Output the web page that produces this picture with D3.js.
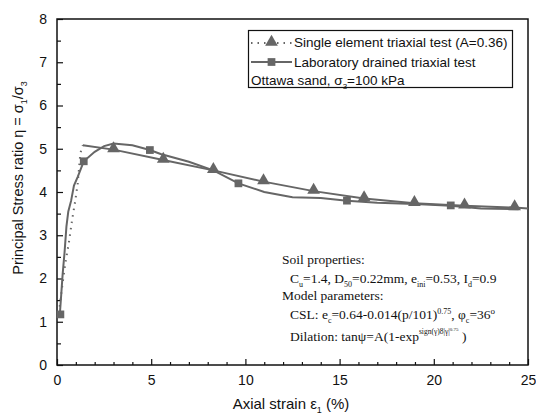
<!DOCTYPE html>
<html>
<head>
<meta charset="utf-8">
<script src="https://cdn.jsdelivr.net/npm/d3@7"></script>
<style>
body{margin:0;background:#fff;}
svg text{font-family:"Liberation Sans",Arial,sans-serif;fill:#111;}
.serif{font-family:"Liberation Serif","Times New Roman",serif !important;}
</style>
</head>
<body>
<div id="canvas"></div>
<script>
// Laboratory drained triaxial test (line + square markers)
var labStrain = [0.15,0.22,0.3,0.4,0.5,0.6,0.75,0.9,1.1,1.42,2.0,2.5,3.0,4.0,4.93,5.5,7.0,8.3,9.63,11,12.5,14,15.39,17,19,20.9,22.5,24.5];
var labEta    = [1.17,1.6,2.1,2.6,3.2,3.55,3.8,4.15,4.35,4.71,4.93,5.06,5.12,5.08,4.97,4.88,4.7,4.5,4.2,4.0,3.88,3.86,3.8,3.75,3.72,3.68,3.62,3.6];
var labMarkStrain = [0.18,1.42,4.93,9.63,15.39,20.9];
var labMarkEta    = [1.17,4.71,4.97,4.2,3.8,3.69];

// Single element triaxial test: rising part (dotted) and softening part (solid)
var simRiseStrain = [0.1,0.27,0.44,0.62,0.8,0.97,1.1,1.24,1.37];
var simRiseEta    = [1.2,1.8,2.35,2.8,3.35,3.8,4.2,4.9,5.08];
var simStrain = [1.37,3.0,5.64,8.3,10.96,13.62,16.3,18.97,21.63,24.29,25];
var simEta    = [5.08,4.98,4.74,4.5,4.24,4.02,3.85,3.74,3.68,3.64,3.62];
var simMarkStrain = [3.0,5.64,8.3,10.96,13.62,16.3,18.97,21.63,24.29];
var simMarkEta    = [4.98,4.74,4.5,4.24,4.02,3.85,3.74,3.68,3.64];

var xTicks = [0,5,10,15,20,25];
var yTicks = [0,1,2,3,4,5,6,7,8];

var m = {t:19,r:8,b:49,l:57},
    W = 536, H = 414,
    w = W - m.l - m.r,
    h = H - m.t - m.b;

var svg = d3.select('#canvas').append('svg')
    .attr('width', W).attr('height', H);
var plot = svg.append('g').attr('transform','translate('+m.l+','+m.t+')');

var x = d3.scaleLinear().domain([0,25]).range([0,w]);
var y = d3.scaleLinear().domain([0,8]).range([h,0]);

var col = '#666';

// axes with inward ticks
var xMinor = d3.range(0,26,1).filter(function(v){return v%5!==0;});
var yMinor = d3.range(0.5,8,1);

plot.append('g').attr('transform','translate(0,'+h+')')
    .call(d3.axisBottom(x).tickValues(xMinor).tickSize(-3).tickFormat(''))
    .call(function(g){g.select('.domain').remove();});
plot.append('g').attr('transform','translate(0,'+h+')')
    .call(d3.axisBottom(x).tickValues(xTicks).tickSize(-6).tickPadding(10).tickFormat(d3.format('d')))
    .call(function(g){g.select('.domain').remove(); g.selectAll('text').style('font-size','14px');});
plot.append('g')
    .call(d3.axisLeft(y).tickValues(yMinor).tickSize(-4).tickFormat(''))
    .call(function(g){g.select('.domain').remove();});
plot.append('g')
    .call(d3.axisLeft(y).tickValues(yTicks).tickSize(-6).tickPadding(10).tickFormat(d3.format('d')))
    .call(function(g){g.select('.domain').remove(); g.selectAll('text').style('font-size','14px');});
plot.selectAll('.tick line').attr('stroke','#111').attr('stroke-width',1.2);

plot.append('rect').attr('width',w).attr('height',h)
    .attr('fill','none').attr('stroke','#111').attr('stroke-width',1.5);

// curves
var line = d3.line().x(function(d){return x(d[0]);}).y(function(d){return y(d[1]);});
var zip = function(a,b){return a.map(function(v,i){return [v,b[i]];});};

plot.append('path').datum(zip(labStrain,labEta)).attr('d',line)
    .attr('fill','none').attr('stroke',col).attr('stroke-width',2);
plot.append('path').datum(zip(simRiseStrain,simRiseEta)).attr('d',line)
    .attr('fill','none').attr('stroke',col).attr('stroke-width',2)
    .attr('stroke-dasharray','1.5,5').attr('stroke-linecap','butt');
plot.append('path').datum(zip(simStrain,simEta)).attr('d',line)
    .attr('fill','none').attr('stroke',col).attr('stroke-width',2);

var sq = d3.symbol().type(d3.symbolSquare).size(60);
var tri = d3.symbol().type(d3.symbolTriangle).size(70);
plot.selectAll('.sq').data(zip(labMarkStrain,labMarkEta)).enter()
    .append('path').attr('class','sq').attr('d',sq).attr('fill',col)
    .attr('transform',function(d){return 'translate('+x(d[0])+','+y(d[1])+')';});
plot.selectAll('.tri').data(zip(simMarkStrain,simMarkEta)).enter()
    .append('path').attr('class','tri').attr('d',tri).attr('fill',col)
    .attr('transform',function(d){return 'translate('+x(d[0])+','+(y(d[1])-1)+')';});

// legend
var lg = svg.append('g');
lg.append('rect').attr('x',248.5).attr('y',30.5).attr('width',264).attr('height',57)
    .attr('fill','#fff').attr('stroke','#111').attr('stroke-width',1.2);
lg.append('line').attr('x1',251).attr('x2',292).attr('y1',43).attr('y2',43)
    .attr('stroke',col).attr('stroke-width',2).attr('stroke-dasharray','1.5,5');
lg.append('path').attr('d',tri).attr('fill',col).attr('transform','translate(271.5,42)');
lg.append('line').attr('x1',251).attr('x2',292).attr('y1',62).attr('y2',62)
    .attr('stroke',col).attr('stroke-width',2);
lg.append('path').attr('d',sq).attr('fill',col).attr('transform','translate(271.5,62)');
lg.append('text').attr('x',294).attr('y',47).style('font-size','13.5px')
    .text('Single element triaxial test (A=0.36)');
lg.append('text').attr('x',294).attr('y',67).style('font-size','13.5px')
    .text('Laboratory drained triaxial test');
var t3 = lg.append('text').attr('x',251).attr('y',85).style('font-size','13.5px');
t3.append('tspan').text('Ottawa sand, \u03c3');
t3.append('tspan').attr('dy',4).style('font-size','8px').text('3');
t3.append('tspan').attr('dy',-4).text('=100 kPa');

// annotation block
var ann = svg.append('g').attr('class','serif');
function serif(xp,yp){
  return ann.append('text').attr('class','serif').attr('x',xp).attr('y',yp).style('font-size','13.5px');
}
function sub(t,s,size){
  t.append('tspan').attr('dy',4).style('font-size',(size||8)+'px').text(s);
}
function back(t,s){ t.append('tspan').attr('dy',-4).text(s); }

serif(282,264).text('Soil properties:');
var a2 = serif(290,283);
a2.append('tspan').text('C'); sub(a2,'u'); back(a2,'=1.4, D'); sub(a2,'50'); back(a2,'=0.22mm, e');
sub(a2,'ini'); back(a2,'=0.53, I'); sub(a2,'d'); back(a2,'=0.9');
serif(282,300).text('Model parameters:');
var a4 = serif(290,319);
a4.append('tspan').text('CSL: e'); sub(a4,'c'); back(a4,'=0.64-0.014(p/101)');
a4.append('tspan').attr('dy',-5).style('font-size','8px').text('0.75');
a4.append('tspan').attr('dy',5).text(', \u03c6'); sub(a4,'c'); back(a4,'=36');
a4.append('tspan').attr('dy',-5).style('font-size','9px').text('o');
var a5 = serif(290,341);
a5.append('tspan').text('Dilation: tan\u03c8=A(1-exp');
a5.append('tspan').attr('dy',-7).style('font-size','7.5px').text('sign(\u03b3)8|\u03b3|');
a5.append('tspan').attr('dy',-3).style('font-size','5px').text('0.75');
a5.append('tspan').attr('dy',10).text(' )');

// axis titles (centred by measured length)
var xl = svg.append('text').attr('y',409).style('font-size','15px');
xl.append('tspan').text('Axial strain \u03b5');
xl.append('tspan').attr('dy',4).style('font-size','9px').text('1');
xl.append('tspan').attr('dy',-4).text(' (%)');
xl.attr('x', 291 - xl.node().getComputedTextLength()/2);

var yl = svg.append('text').attr('transform','translate(23,178) rotate(-90)')
    .style('font-size','14.5px');
yl.append('tspan').text('Principal Stress ratio \u03b7 = \u03c3');
yl.append('tspan').attr('dy',4).style('font-size','9px').text('1');
yl.append('tspan').attr('dy',-4).text('/\u03c3');
yl.append('tspan').attr('dy',4).style('font-size','9px').text('3');
yl.attr('x', -yl.node().getComputedTextLength()/2);
</script>
</body>
</html>
